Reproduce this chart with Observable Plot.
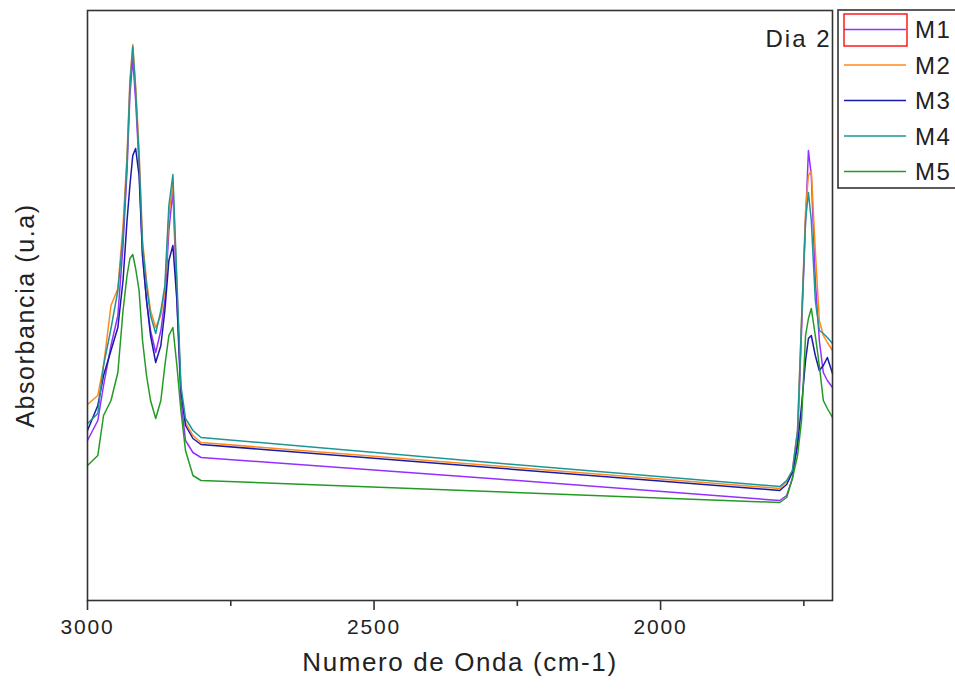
<!DOCTYPE html>
<html><head><meta charset="utf-8">
<script src="https://cdn.jsdelivr.net/npm/d3@7"></script>
<script src="https://cdn.jsdelivr.net/npm/@observablehq/plot@0.6"></script>
<style>
body{margin:0;background:#fff;font-family:"Liberation Sans",Arial,sans-serif;}
#wrap{position:relative;width:955px;height:692px;overflow:hidden;background:#fff;}
#legend{position:absolute;left:0;top:0;pointer-events:none;}
</style></head><body><div id="wrap"></div>
<script>
const wavenumbers = [3000,2982,2972,2959,2947,2938,2931,2926,2921,2916,2910,2904,2897,2890,2881,2872,2865,2858,2851,2844,2837,2829,2816,2802,2297,1792,1780,1770,1761,1754,1747,1742,1737,1730,1723,1716,1709,1700];
const M1 = [160,180,215,255,285,355,430,505,542,500,435,345,300,270,248,270,300,370,410,300,200,160,148,143,122,100,105,122,160,270,380,450,425,320,260,228,220,213];
const M2 = [196,205,235,295,312,375,445,520,556,515,450,360,320,290,273,285,310,385,418,315,210,178,165,158,135,112,119,130,170,280,390,425,430,350,280,265,258,250];
const M3 = [170,195,225,250,273,320,380,415,445,452,425,345,300,265,238,255,290,340,355,300,210,175,162,156,133,110,116,128,155,195,240,262,265,245,230,235,243,227];
const M4 = [177,187,235,272,310,365,440,515,554,510,443,355,315,285,267,290,315,395,426,320,215,182,170,163,138,114,120,130,170,280,380,408,380,300,270,267,263,257];
const M5 = [135,145,185,200,228,290,325,342,346,332,310,260,225,200,182,200,235,265,273,235,190,150,125,120,109,98,103,122,145,180,265,282,292,265,235,200,192,183];
const seriesNames = ["M1","M2","M3","M4","M5"];
const seriesValues = [M1,M2,M3,M4,M5];
const seriesColors = ["#9430FF","#FF8A1C","#1A1AA8","#1E9696","#249A24"];
const xTicks = [3000,2500,2000];
const xMinorTicks = [2750,2250,1750];
const panelLabel = "Dia 2";
const xTitle = "Numero de Onda (cm-1)";
const yTitle = "Absorbancia (u.a)";

const rows = [];
seriesNames.forEach((name, i) => {
  wavenumbers.forEach((wn, j) => rows.push({series: name, wn, value: seriesValues[i][j]}));
});

const ink = "#222";
const chart = Plot.plot({
  width: 955, height: 692,
  marginLeft: 87, marginRight: 123, marginTop: 10, marginBottom: 92,
  style: {fontFamily: '"Liberation Sans", Arial, sans-serif', background: "#fff", color: ink},
  x: {domain: [3000, 1700]},
  y: {domain: [0, 590], axis: null},
  color: {domain: seriesNames, range: seriesColors},
  marks: [
    Plot.line(rows, {x: "wn", y: "value", z: "series", stroke: "series", strokeWidth: 1.5, curve: "linear"}),
    Plot.frame({stroke: "#333", strokeWidth: 1.6}),
    Plot.axisX({ticks: xTicks, tickSize: 10, tickPadding: 9, fontSize: 21, tickFormat: d => String(d), label: null, stroke: "#333", strokeWidth: 1.6, fill: ink}),
    Plot.axisX({ticks: xMinorTicks, tickSize: 6, tickFormat: () => "", label: null, stroke: "#333", strokeWidth: 1.6}),
    Plot.text([panelLabel], {frameAnchor: "top-right", dx: -1, dy: 19, fontSize: 24, textAnchor: "end", fill: ink}),
    Plot.text([xTitle], {frameAnchor: "bottom", dy: 70, fontSize: 26, fill: ink}),
    Plot.text([yTitle], {frameAnchor: "left", dx: -62, dy: 10, rotate: -90, textAnchor: "middle", fontSize: 25, fill: ink})
  ]
});
const wrap = document.getElementById("wrap");
wrap.appendChild(chart);

// letter spacing to match the reference's wide type
const spacing = new Map([[panelLabel, "2px"], [xTitle, "1.6px"], [yTitle, "1.6px"]]);
xTicks.forEach(t => spacing.set(String(t), "1.8px"));
d3.select(chart).selectAll("text").each(function() {
  const s = spacing.get(this.textContent);
  if (s) this.setAttribute("letter-spacing", s);
});

// legend
const svg = d3.select(wrap).append("svg").attr("id","legend").attr("width",955).attr("height",692);
const lg = svg.append("g");
lg.append("rect").attr("x",838).attr("y",10).attr("width",140).attr("height",178)
  .attr("fill","#fff").attr("stroke","#333").attr("stroke-width",1.6);
const rowH = 35.5;
seriesNames.forEach((name, i) => {
  const cy = 29.5 + i * rowH;
  lg.append("line").attr("x1",844).attr("x2",906).attr("y1",cy).attr("y2",cy)
    .attr("stroke",seriesColors[i]).attr("stroke-width",1.6);
  lg.append("text").attr("x",915).attr("y",cy).attr("dy","0.36em")
    .attr("font-size",24).attr("letter-spacing",1.5).attr("fill",ink)
    .attr("font-family",'"Liberation Sans", Arial, sans-serif').text(name);
});
lg.append("rect").attr("x",844).attr("y",14).attr("width",63).attr("height",32)
  .attr("fill","none").attr("stroke","#ff1a1a").attr("stroke-width",1.5);
</script></body></html>
